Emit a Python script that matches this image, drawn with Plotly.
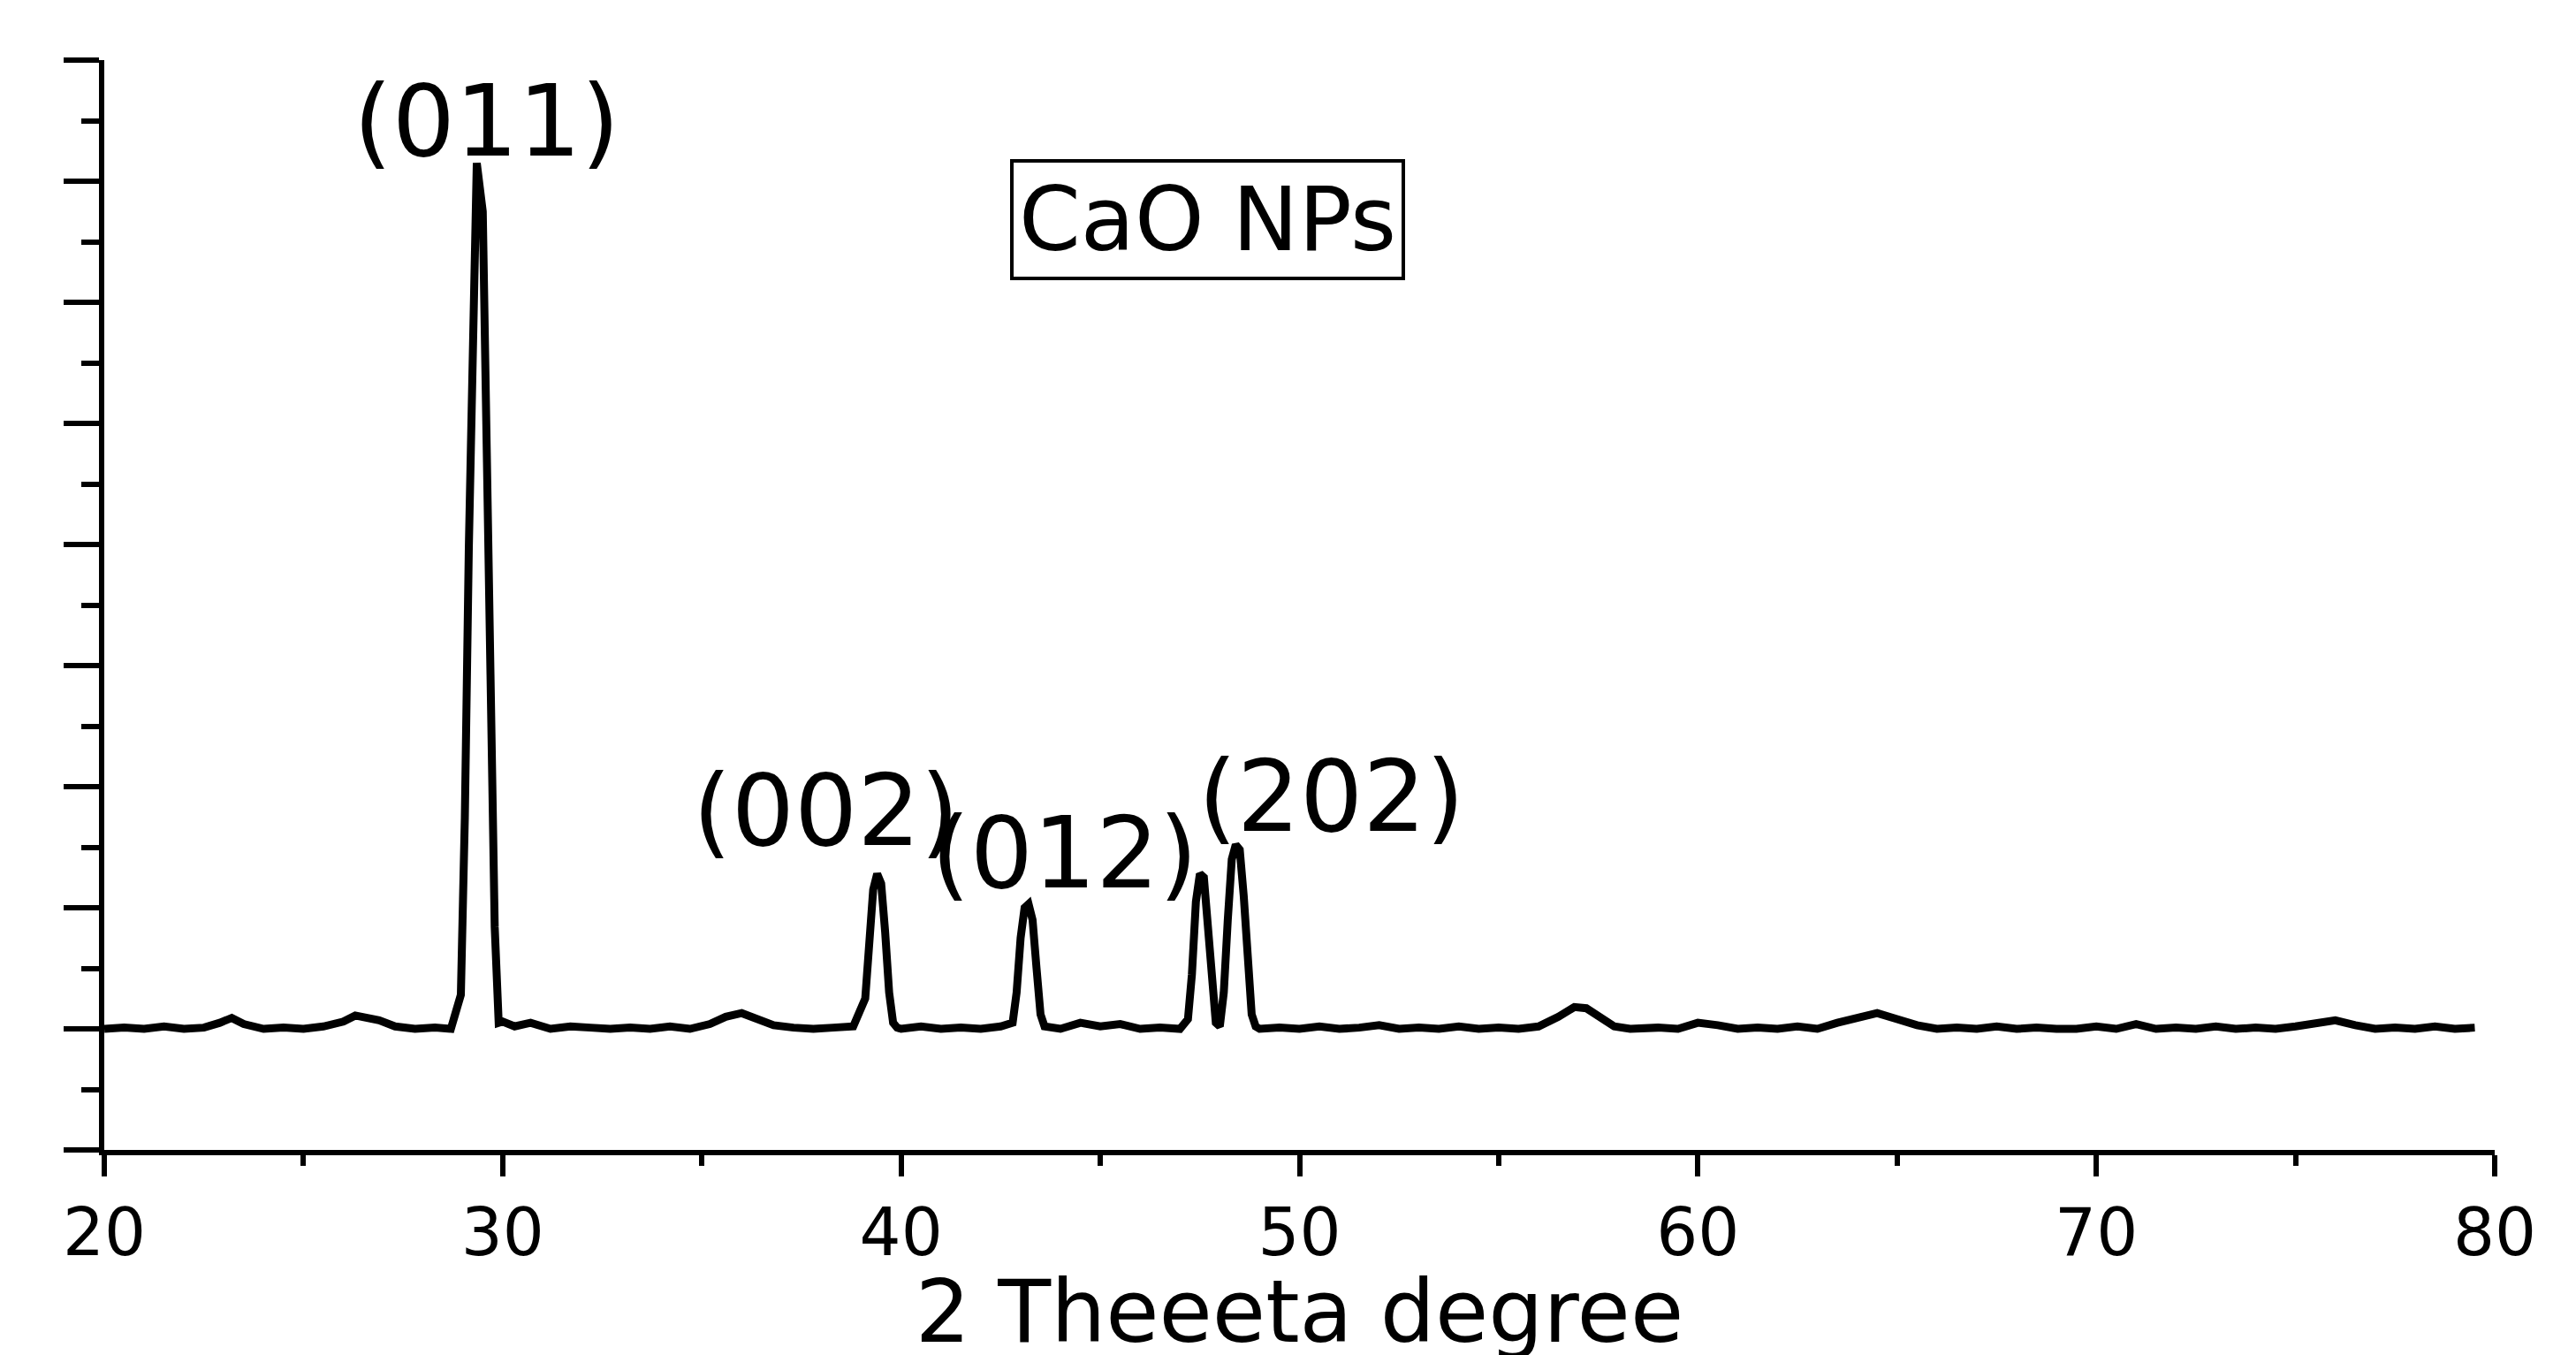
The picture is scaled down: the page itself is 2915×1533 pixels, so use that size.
import plotly.graph_objects as go

two_theta = [20.0,20.5,21.0,21.5,22.0,22.5,22.9,23.2,23.5,24.0,24.5,25.0,25.5,26.0,26.3,26.6,26.9,27.3,27.8,28.3,28.7,28.95,
 29.05,29.15,29.25,29.35,29.5,29.6,29.7,29.8,29.9,30.0,30.3,30.7,31.2,31.7,32.2,32.7,33.2,33.7,34.2,34.7,35.2,35.6,36.0,36.4,36.8,37.3,37.8,38.3,38.8,
 39.1,39.2,39.3,39.4,39.5,39.6,39.7,39.8,39.9,40.0,40.5,41.0,41.5,42.0,42.5,42.8,42.9,43.0,43.1,43.2,43.3,43.4,43.5,43.6,44.0,44.5,45.0,45.5,46.0,46.5,47.0,
 47.2,47.3,47.4,47.5,47.6,47.7,47.8,47.9,48.0,48.1,48.2,48.3,48.4,48.5,48.6,48.7,48.8,48.9,49.0,49.5,50.0,50.5,51.0,51.5,52.0,52.5,53.0,53.5,54.0,54.5,55.0,55.5,56.0,
 56.5,56.9,57.2,57.5,57.9,58.3,59.0,59.5,60.0,60.5,61.0,61.5,62.0,62.5,63.0,63.5,64.0,64.5,65.0,65.5,66.0,66.5,67.0,67.5,68.0,68.5,69.0,69.5,70.0,70.5,71.0,71.5,72.0,72.5,73.0,73.5,74.0,
 74.5,75.0,75.5,76.0,76.5,77.0,77.5,78.0,78.5,79.0,79.5,80.0]
intensity = [0.0,0.01,0.0,0.02,0.0,0.01,0.05,0.09,0.04,0.0,0.01,0.0,0.02,0.06,0.11,0.09,0.07,0.02,0.0,0.01,0.0,0.28,
 1.74,3.97,6.07,7.15,6.75,5.05,2.83,0.84,0.05,0.06,0.02,0.05,0.0,0.02,0.01,0.0,0.01,0.0,0.02,0.0,0.04,0.1,0.13,0.08,0.03,0.01,0.0,0.01,0.02,
 0.25,0.7,1.15,1.28,1.2,0.8,0.3,0.05,0.01,0.0,0.02,0.0,0.01,0.0,0.02,0.05,0.3,0.75,1.0,1.03,0.9,0.5,0.12,0.02,0.0,0.05,0.02,0.04,0.0,0.01,0.0,
 0.08,0.45,1.05,1.28,1.25,0.9,0.4,0.05,0.02,0.3,0.9,1.4,1.52,1.48,1.1,0.5,0.12,0.02,0.0,0.01,0.0,0.02,0.0,0.01,0.03,0.0,0.01,0.0,0.02,0.0,0.01,0.0,
 0.02,0.1,0.18,0.17,0.1,0.02,0.0,0.01,0.0,0.05,0.03,0.0,0.01,0.0,0.02,0.0,0.05,0.09,0.13,0.08,0.03,0.0,0.01,0.0,0.02,0.0,0.01,0.0,0.0,0.02,0.0,0.04,0.0,0.01,0.0,0.02,0.0,
 0.01,0.0,0.02,0.04,0.07,0.03,0.0,0.01,0.0,0.02,0.0,0.01]

peak_labels = ["(011)", "(002)", "(012)", "(202)"]
peak_label_x = [29.6, 38.1, 44.1, 50.8]
peak_label_y = [7.5, 1.8, 1.45, 1.92]
sample_label = "CaO NPs"

FONT = "DejaVu Sans"

fig = go.Figure()
fig.add_trace(go.Scatter(x=two_theta, y=intensity, mode="lines",
                         line=dict(color="black", width=9), showlegend=False))

for t, x, y in zip(peak_labels, peak_label_x, peak_label_y):
    fig.add_annotation(x=x, y=y, text=t, showarrow=False,
                       font=dict(size=112, color="black", family=FONT))
fig.add_annotation(x=47.7, y=6.68, text=sample_label, showarrow=False,
                   font=dict(size=100, color="black", family=FONT),
                   bordercolor="black", borderwidth=4, borderpad=6, bgcolor="white")

fig.update_layout(
    width=2915, height=1533,
    margin=dict(l=110, r=100, t=60, b=240),
    plot_bgcolor="white", paper_bgcolor="white",
    font=dict(family=FONT, color="black"),
)
fig.update_xaxes(range=[20, 80], dtick=10, showgrid=False, zeroline=False,
                 showline=True, linecolor="black", linewidth=6,
                 ticks="outside", ticklen=24, tickwidth=6, tickcolor="black",
                 minor=dict(dtick=5, ticks="outside", ticklen=12, tickwidth=6, tickcolor="black"),
                 tickfont=dict(size=74),
                 title=dict(text="2 Theeeta degree", font=dict(size=98), standoff=10))
fig.update_yaxes(range=[-1, 8], dtick=1, showgrid=False, zeroline=False,
                 showline=True, linecolor="black", linewidth=6,
                 ticks="outside", ticklen=40, tickwidth=6, tickcolor="black",
                 minor=dict(dtick=0.5, ticks="outside", ticklen=20, tickwidth=6, tickcolor="black"),
                 showticklabels=False)
fig.write_html("out.html")
